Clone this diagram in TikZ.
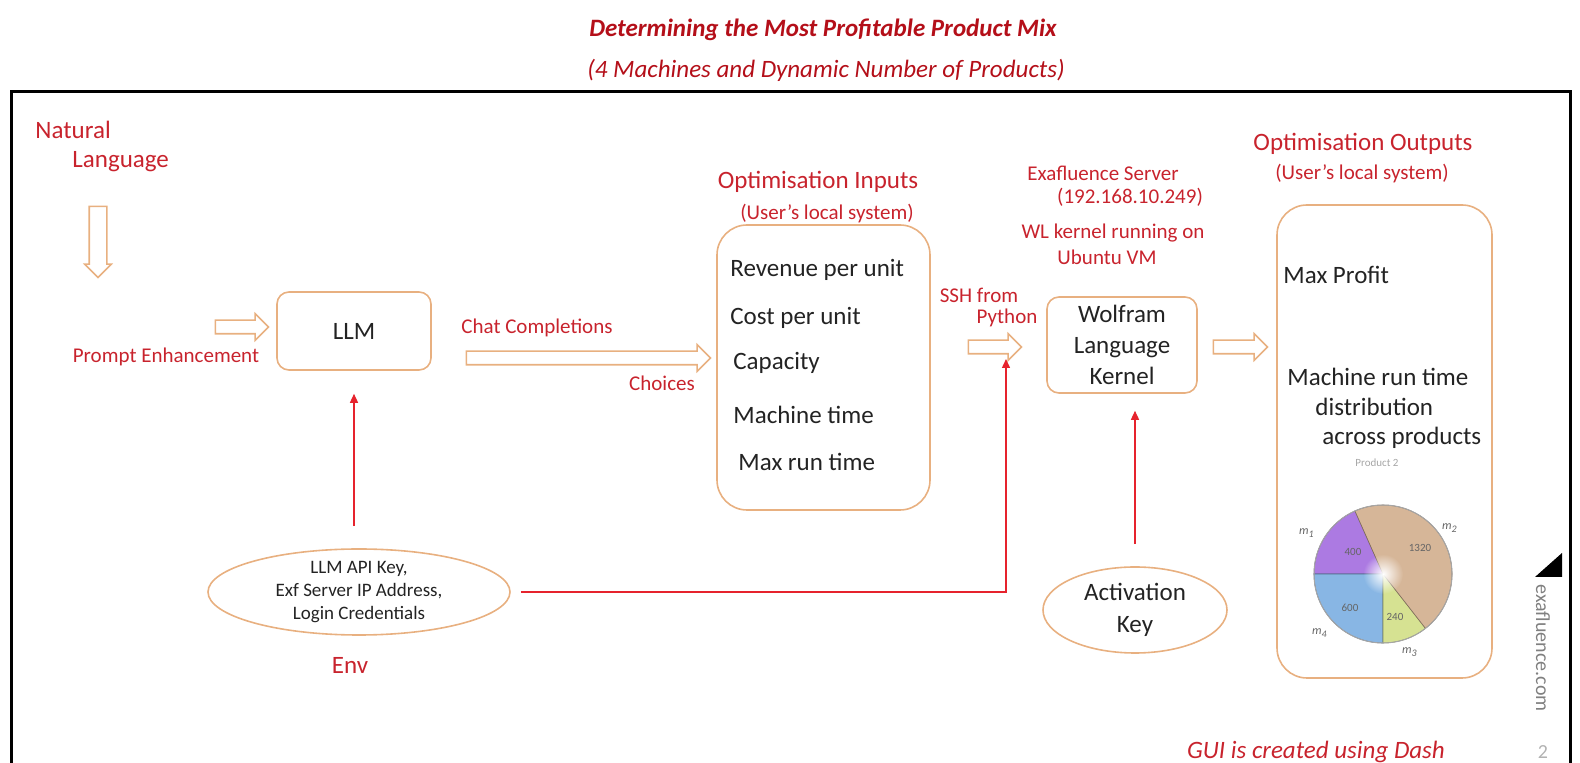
\documentclass[tikz,border=0pt]{standalone}
\usepackage{fontspec}
\setmainfont{Carlito}
\usetikzlibrary{shapes.geometric,shapes.arrows,arrows.meta,fadings}
\definecolor{labelred}{RGB}{200,35,45}
\definecolor{titlered}{RGB}{180,15,25}
\definecolor{linered}{RGB}{230,35,45}
\definecolor{boxline}{RGB}{232,176,128}
\definecolor{ink}{RGB}{35,35,35}
\definecolor{piepurple}{RGB}{172,122,226}
\definecolor{pietan}{RGB}{214,182,152}
\definecolor{pieblue}{RGB}{136,182,228}
\definecolor{piegreen}{RGB}{214,226,146}
\newcommand{\fsz}[1]{\fontsize{#1}{#1}\selectfont}
\tikzfading[name=glow, inner color=transparent!0, outer color=transparent!100]

\begin{document}
\begin{tikzpicture}[x=0.5pt,y=-0.5pt,
    lbl/.style={inner sep=0pt, text=labelred, font=\fsz{10.5}},
    head/.style={inner sep=0pt, text=labelred, font=\fsz{12.5}},
    txt/.style={inner sep=0pt, text=ink, font=\fsz{12.5}},
    box/.style={draw=boxline, line width=0.8pt, inner sep=0pt},
    hollow/.style={single arrow, draw=boxline, fill=white, line width=0.8pt,
      inner sep=3pt, single arrow head extend=3.25pt},
    feed/.style={linered, line width=0.7pt, -{Triangle[length=4.5pt,width=4pt]}}]
  \useasboundingbox (0,0) rectangle (1580,763);
  \draw[line width=1.5pt] (11,790) -- (11,92) -- (1570,92) -- (1570,790);

  \node[inner sep=0pt, text=titlered, font=\fsz{12.5}\bfseries\itshape] (title) at (823,30)
    {Determining the Most Profitable Product Mix};
  \node[inner sep=0pt, text=titlered, font=\fsz{12.5}\itshape] (subtitle) at (826,70)
    {(4 Machines and Dynamic Number of Products)};

  % prompt side
  \node[head, anchor=west] (nat) at (35,130) {Natural};
  \node[head, anchor=west] (lang) at (72,162) {Language};
  \node[hollow, inner sep=4pt, single arrow head extend=2.25pt, minimum height=35.5pt,
    rotate=-90] (down) at (98,237.5) {};
  \node[hollow, minimum height=26.5pt] (enh) at (238.5,327) {};
  \node[lbl] (prompt) at (166,357) {Prompt Enhancement};
  \node[box, txt, rounded corners=6pt, minimum width=77pt, minimum height=39pt] (llm) at (354,331) {LLM};

  \node[lbl] (chat) at (537,328) {Chat Completions};
  \node[hollow, minimum height=122pt] (choose) at (585,358) {};
  \node[lbl] (choices) at (662,383) {Choices};

  % inputs
  \node[head] (intitle) at (818,182) {Optimisation Inputs};
  \node[lbl] (inlocal) at (827,214) {(User’s local system)};
  \node[box, rounded corners=15pt, minimum width=106.5pt, minimum height=142.5pt] (inputs) at (823.5,367.5) {};
  \foreach \t/\x/\y [count=\i] in {Revenue per unit/730/270, Cost per unit/730/318,
      Capacity/733/363, Machine time/733/415, Max run time/738/462}
    \node[txt, anchor=west] (in\i) at (\x,\y) {\t};

  % kernel
  \node[lbl] (ssh) at (979,295) {SSH from};
  \node[lbl] (py) at (1007,318) {Python};
  \node[hollow, minimum height=26.5pt] (ssharr) at (991.5,347) {};
  \coordinate (sshin) at (1006,359);
  \node[lbl] (server) at (1103,173) {Exafluence Server};
  \node[lbl] (ip) at (1130,197) {(192.168.10.249)};
  \node[lbl] (wl) at (1113,233) {WL kernel running on};
  \node[lbl] (vm) at (1107,257) {Ubuntu VM};
  \node[box, txt, rounded corners=6pt, minimum width=75pt, minimum height=48pt, align=center,
    font=\fontsize{12.5}{15.5}\selectfont] (wolfram) at (1122,345) {Wolfram\\Language\\Kernel};
  \node[box, txt, ellipse, minimum width=92pt, minimum height=43pt, align=center,
    font=\fontsize{12.5}{16}\selectfont] (key) at (1135,610) {Activation\\Key};
  \draw[feed, shorten <=11pt, shorten >=8.5pt] (key.north) -- (key.north |- wolfram.south);

  % env
  \node[box, txt, ellipse, minimum width=151pt, minimum height=43pt, align=center,
    font=\fontsize{9.5}{11.3}\selectfont] (env) at (359,592)
    {LLM API Key,\\Exf Server IP Address,\\Login Credentials};
  \node[head] (envlbl) at (350,665) {Env};
  \draw[feed, shorten <=11pt, shorten >=11.5pt] (llm.south |- env.north) -- (llm.south);
  \draw[feed, shorten <=5pt] (env.east) -| (sshin);

  % outputs
  \node[hollow, minimum height=27pt] (outarr) at (1237,347) {};
  \node[head] (outtitle) at (1363,144) {Optimisation Outputs};
  \node[lbl] (outlocal) at (1362,174) {(User’s local system)};
  \node[box, rounded corners=15pt, minimum width=107.5pt, minimum height=236.5pt] (outputs) at (1384.5,441.5) {};
  \node[txt, anchor=west] (profit) at (1283,275) {Max Profit};
  \node[txt, anchor=west] (run1) at (1287,377) {Machine run time};
  \node[txt, anchor=west] (run2) at (1315,407) {distribution};
  \node[txt, anchor=west] (run3) at (1322,438) {across products};
  \node[inner sep=0pt, text=gray!70, font=\fsz{5.5}] (prod) at (1377,463) {Product 2};

  \coordinate (pie) at (1383,574);
  \begin{scope}[shift={(pie)}, yscale=-1]
    \foreach \a/\b/\c in {114/180/piepurple, 180/270/pieblue, 270/308/piegreen, 308/474/pietan}
      \filldraw[fill=\c, draw=\c!60!black, line width=0.3pt] (0,0) -- (\a:69)
        arc[start angle=\a, end angle=\b, radius=69] -- cycle;
  \end{scope}
  \draw[gray!70, line width=0.5pt] (pie) circle (69);
  \fill[white, path fading=glow] (pie) circle (20);
  \foreach \v/\x/\y in {400/1353/552, 1320/1420/548, 600/1350/608, 240/1395/617}
    \node[inner sep=0pt, text=ink!70, font=\fsz{5.5}] at (\x,\y) {\v};
  \foreach \m/\x/\y in {1/1307/533, 2/1450/528, 4/1320/633, 3/1410/652}
    \node[inner sep=0pt, text=ink!70, font=\fsz{6}\itshape] at (\x,\y) {m\textsubscript{\m}};

  % footer
  \fill (1562,553) -- (1562,577) -- (1535,577) -- cycle;
  \node[inner sep=0pt, text=gray, font=\fsz{10}, rotate=-90] (site) at (1543,648) {exafluence.com};
  \node[inner sep=0pt, text=gray!60, font=\fsz{10}] (page) at (1543,752) {2};
  \node[inner sep=0pt, text=labelred, font=\fsz{12.5}\itshape] (gui) at (1316,752) {GUI is created using Dash};
\end{tikzpicture}
\end{document}
